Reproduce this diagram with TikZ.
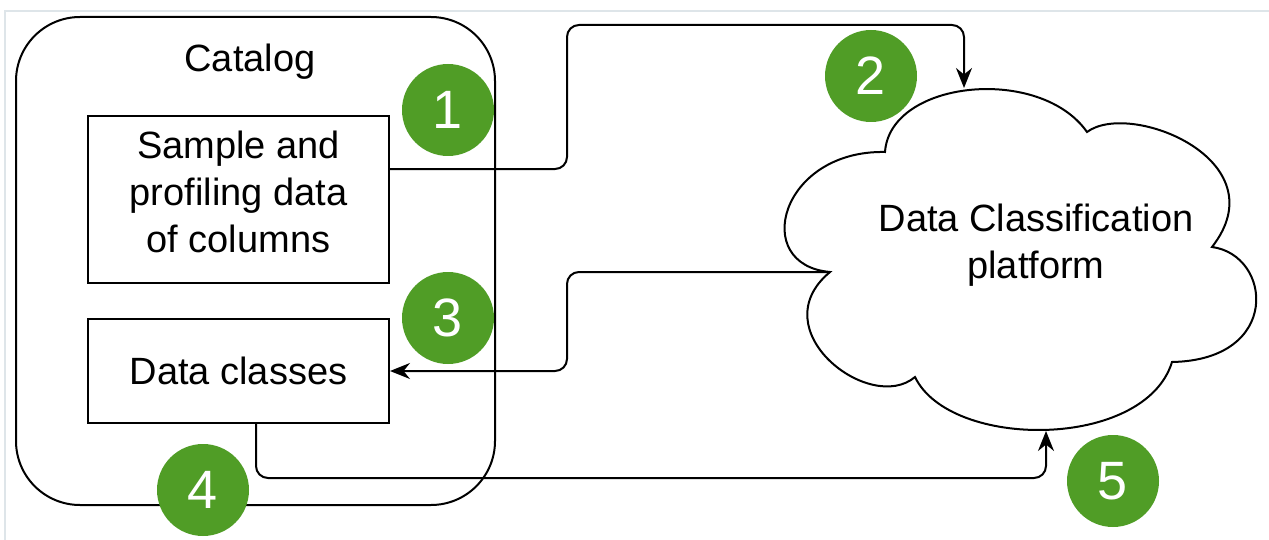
\documentclass[tikz,border=0pt]{standalone}
\usepackage{fontspec}
\setmainfont{Liberation Sans}
\usepackage{tikz}
\usetikzlibrary{shapes.geometric, arrows.meta, positioning, calc}
\definecolor{badgegreen}{RGB}{80,157,38}
\definecolor{framegray}{RGB}{222,229,233}

\begin{document}
\begin{tikzpicture}[
    x=0.5pt, y=-0.5pt,
    box/.style={rectangle, draw, line width=1pt, minimum width=150.5pt, align=center, font=\fontsize{19}{23.5}\selectfont},
    txt/.style={align=center, font=\fontsize{19}{23.5}\selectfont},
    badge/.style={circle, fill=badgegreen, text=white, inner sep=0pt, minimum size=46pt, font=\fontsize{27}{27}\selectfont},
    arr/.style={-{Stealth[length=10pt,width=8pt]}, line width=1pt, rounded corners=6pt}
]
\useasboundingbox (0,0) rectangle (1269,540);
% page frame
\draw[framegray, line width=1pt] (5,540) -- (5,11) -- (1269,11);

% Catalog container
\node[draw, line width=1pt, rounded corners=32pt, minimum width=239.5pt, minimum height=244pt] (catalog) at (255.5,261) {};
\node[txt] (cattitle) at (250,62) {Catalog};
\node[box, minimum height=83.5pt, text depth=8pt] (sample) at (238.5,199.5) {Sample and\\profiling data\\of columns};
\node[box, minimum height=52pt] (classes) at (238.5,371) {Data classes};

% Cloud
\draw[line width=1pt] (885,152) .. controls (890,80) and (1040,65) .. (1087,132)
  .. controls (1130,100) and (1280,160) .. (1212,247)
  .. controls (1272,255) and (1282,360) .. (1172,362)
  .. controls (1145,450) and (950,450) .. (915,377)
  .. controls (870,415) and (760,330) .. (830,272)
  .. controls (750,265) and (780,150) .. (885,152) -- cycle;
\node[txt] (platform) at (1036,245) {Data Classification\\platform};
\coordinate (cldtop) at (964,88);
\coordinate (cldleft) at (830,272);
\coordinate (cldbot) at (1046,431);

% Connectors
\draw[arr] (sample.east |- 0,169) -- (567,169) -- (567,25) -| (cldtop);
\draw[arr] (cldleft) -- (567,272) |- (classes.east);
\draw[arr] (classes.south -| 256,0) -- (256,478) -| (cldbot);

% Step badges
\node[badge] (b1) at (448,110) {1};
\node[badge] (b2) at (871,76) {2};
\node[badge] (b3) at (448,318) {3};
\node[badge] (b4) at (203,490) {4};
\node[badge] (b5) at (1113,481) {5};
\end{tikzpicture}
\end{document}
